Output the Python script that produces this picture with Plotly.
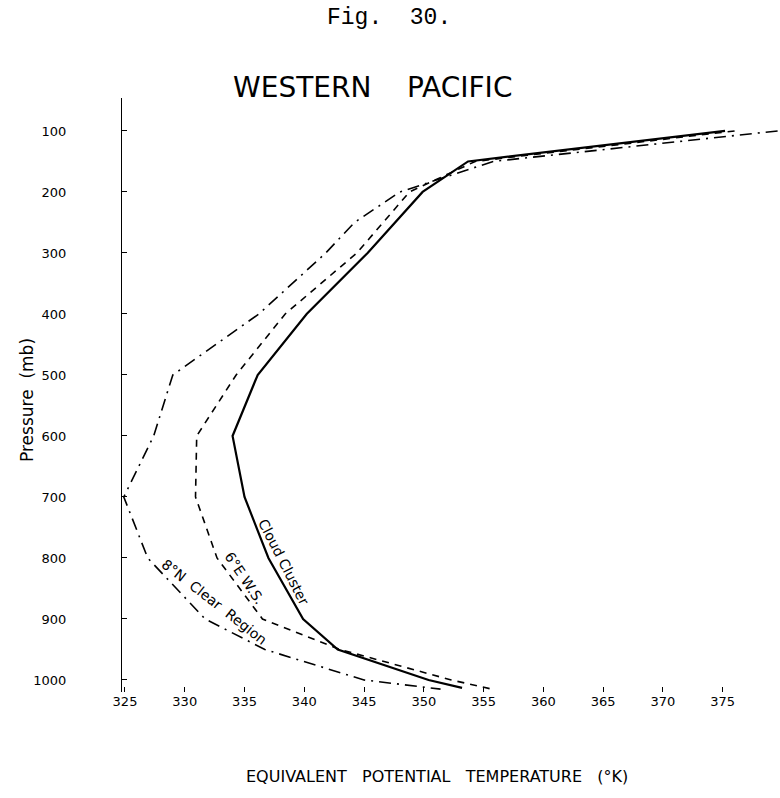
import plotly.graph_objects as go

# ---- data ----
cloud_p = [100, 150, 200, 300, 400, 500, 600, 700, 800, 900, 950, 1000, 1013]
cloud_t = [375.2, 353.7, 349.9, 345.3, 340.2, 336.1, 334.0, 335.0, 337.0, 339.9, 342.8, 350.4, 353.2]

ews_p = [100, 150, 200, 300, 400, 500, 600, 700, 800, 900, 950, 1000, 1015]
ews_t = [376.0, 354.3, 348.8, 344.4, 338.4, 334.3, 331.0, 330.9, 332.7, 336.5, 343.0, 352.3, 355.7]

clear_p = [100, 150, 200, 250, 300, 400, 500, 600, 700, 800, 900, 950, 1000, 1015]
clear_t = [379.6, 355.8, 348.0, 344.2, 341.8, 336.2, 329.0, 327.4, 324.9, 326.9, 331.7, 336.7, 345.0, 351.4]

x_ticks = [325, 330, 335, 340, 345, 350, 355, 360, 365, 370, 375]
y_ticks = [100, 200, 300, 400, 500, 600, 700, 800, 900, 1000]

FONT = "DejaVu Sans"
NB = "\u00a0"

fig = go.Figure()
fig.add_trace(go.Scatter(x=cloud_t, y=cloud_p, mode="lines",
                         line=dict(color="black", width=2.2), name="Cloud Cluster"))
fig.add_trace(go.Scatter(x=ews_t, y=ews_p, mode="lines",
                         line=dict(color="black", width=1.6, dash="7px,6px"), name="6°E W.S."))
fig.add_trace(go.Scatter(x=clear_t, y=clear_p, mode="lines",
                         line=dict(color="black", width=1.6, dash="12px,6px,2px,6px"),
                         name="8°N Clear Region"))

L, R, T, B = 122, 0, 98, 106
W, H = 780, 798
fig.update_layout(
    width=W, height=H,
    margin=dict(l=L, r=R, t=T, b=B),
    paper_bgcolor="white", plot_bgcolor="white",
    showlegend=False,
    font=dict(family=FONT, color="black"),
)

fig.update_xaxes(
    range=[324.75, 379.8], tickvals=x_ticks, ticktext=[str(v) for v in x_ticks],
    showgrid=False, zeroline=False, showline=False,
    ticks="inside", ticklen=5, tickcolor="black", tickwidth=1,
    tickfont=dict(size=13, family=FONT),
)
fig.update_yaxes(
    range=[1019.7, 46], tickvals=y_ticks, ticktext=[str(v) for v in y_ticks],
    showgrid=False, zeroline=False, showline=True, linecolor="black", linewidth=1.2,
    ticks="inside", ticklen=5, tickcolor="black", tickwidth=1,
    tickfont=dict(size=13, family=FONT), ticklabelstandoff=52,
)

pw, ph = W - L - R, H - T - B
ann = [
    dict(text="Fig." + NB + " 30.", x=389, y=18, font=dict(family="Liberation Mono", size=23)),
    dict(text="WESTERN" + NB * 3 + " PACIFIC", x=372, y=88, font=dict(family=FONT, size=28)),
    dict(text="EQUIVALENT" + NB * 2 + " POTENTIAL" + NB * 2 + " TEMPERATURE" + NB * 2 + " (°K)",
         x=437, y=776, font=dict(family=FONT, size=16)),
    dict(text="Pressure" + NB + " (mb)", x=27, y=400, textangle=-90, font=dict(family=FONT, size=17)),
]
for a in ann:
    fig.add_annotation(
        xref="paper", yref="paper",
        x=(a["x"] - L) / pw, y=(H - B - a["y"]) / ph,
        xanchor="center", yanchor="middle",
        text=a["text"], showarrow=False, font=a["font"],
        textangle=a.get("textangle", 0),
    )

# curve labels (data coordinates)
labels = [
    dict(text="Cloud Cluster", x=338.3, y=806, angle=63),
    dict(text="6°E W.S.", x=335.0, y=833, angle=56),
    dict(text="8°N" + NB + " Clear" + NB + " Region", x=332.5, y=872, angle=38),
]
for l in labels:
    fig.add_annotation(x=l["x"], y=l["y"], text=l["text"], showarrow=False,
                       textangle=l["angle"], font=dict(family=FONT, size=14),
                       xanchor="center", yanchor="middle")

fig.write_html("out.html")
